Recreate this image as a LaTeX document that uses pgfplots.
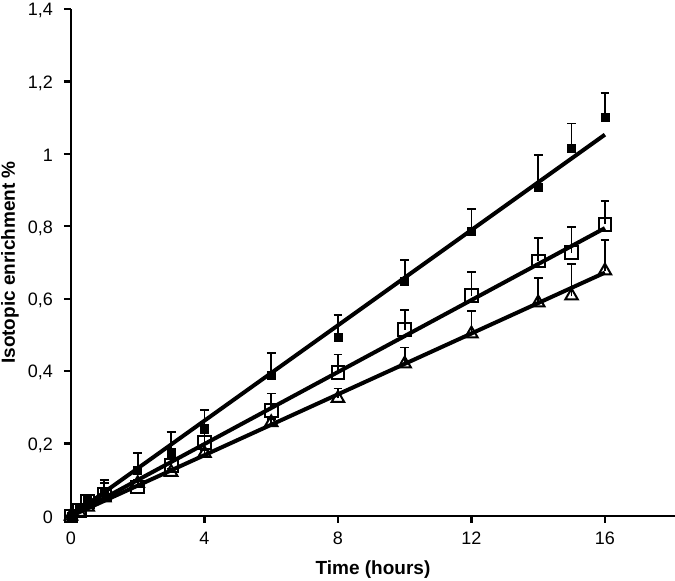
\documentclass[border=0pt]{standalone}
\usepackage{pgfplots}
\pgfplotsset{compat=1.18}
\usepackage{fontspec}
\setmainfont{Liberation Sans}
\begin{document}
\begin{tikzpicture}
\begin{axis}[
  scale only axis,
  width=302pt, height=253.5pt,
  xmin=0, xmax=18.1, ymin=0, ymax=1.4,
  axis lines*=left,
  axis line style={line width=1.2pt},
  tick style={line width=1.1pt, black},
  tick align=outside,
  major tick length=3.5pt,
  xtick={0,4,8,12,16},
  ytick={0,0.2,0.4,0.6,0.8,1,1.2,1.4},
  /pgf/number format/.cd, use comma, fixed, assume math mode=true,
  /pgfplots/.cd,
  ticklabel style={font=\fontsize{9}{10}\selectfont},
  yticklabel style={xshift=-2pt, yshift=-0.8pt},
  xticklabel style={yshift=-1pt},
  xlabel={\bfseries Time (hours)},
  ylabel={\bfseries Isotopic enrichment \%},
  label style={font=\fontsize{9.5}{11}\selectfont\bfseries},
  xlabel style={at={(axis description cs:0.5,-0.1065)}, anchor=center},
  ylabel style={at={(axis description cs:-0.101,0.5)}, anchor=center},
  clip=false,
]
% regression lines
\addplot[line width=2pt, black] coordinates {(0,0) (16,1.053)};
\addplot[line width=2pt, black] coordinates {(0,0) (16,0.795)};
\addplot[line width=2pt, black] coordinates {(0,0) (16,0.672)};
% series A (filled)
\addplot[only marks, mark=square*, mark size=2pt, black,
  error bars/.cd, y dir=plus, y explicit,
  error bar style={line width=0.9pt},
  error mark options={rotate=90, mark size=2.2pt, line width=0.9pt}]
  table[x=x, y=y, y error=e] {
x y e
0 0 0
0.25 0.02 0.01
0.5 0.04 0.015
1 0.065 0.035
2 0.125 0.048
3 0.176 0.055
4 0.242 0.05
6 0.388 0.063
8 0.492 0.062
10 0.649 0.058
12 0.787 0.06
14 0.908 0.088
15 1.015 0.069
16 1.10 0.069
};
% series B (open squares)
\addplot[only marks, mark=square, mark size=3.2pt, black, line width=1pt,
  mark options={fill=white},
  error bars/.cd, y dir=plus, y explicit,
  error bar style={line width=0.9pt},
  error mark options={rotate=90, mark size=2.2pt, line width=0.9pt}]
  table[x=x, y=y, y error=e] {
x y e
0 0 0
0.25 0.015 0.01
0.5 0.04 0.012
1 0.06 0.03
2 0.08 0.02
3 0.14 0.02
4 0.203 0.025
6 0.292 0.046
8 0.396 0.05
10 0.514 0.055
12 0.608 0.066
14 0.704 0.063
15 0.727 0.071
16 0.806 0.063
};
% series C (open triangles)
\addplot[only marks, mark=triangle, mark size=3.6pt, black, line width=1pt,
  mark options={fill=white},
  error bars/.cd, y dir=plus, y explicit,
  error bar style={line width=0.9pt},
  error mark options={rotate=90, mark size=2.2pt, line width=0.9pt}]
  table[x=x, y=y, y error=e] {
x y e
0 0 0
0.25 0.01 0
0.5 0.025 0.01
1 0.05 0.01
2 0.09 0.01
3 0.121 0.01
4 0.173 0.01
6 0.258 0.01
8 0.325 0.027
10 0.42 0.045
12 0.503 0.064
14 0.589 0.068
15 0.608 0.087
16 0.677 0.084
};
\end{axis}
\pgfresetboundingbox
\path[use as bounding box] ([xshift=-35.5pt,yshift=-32.5pt]current axis.south west) rectangle ([yshift=4.5pt]current axis.north east);
\end{tikzpicture}
\end{document}
